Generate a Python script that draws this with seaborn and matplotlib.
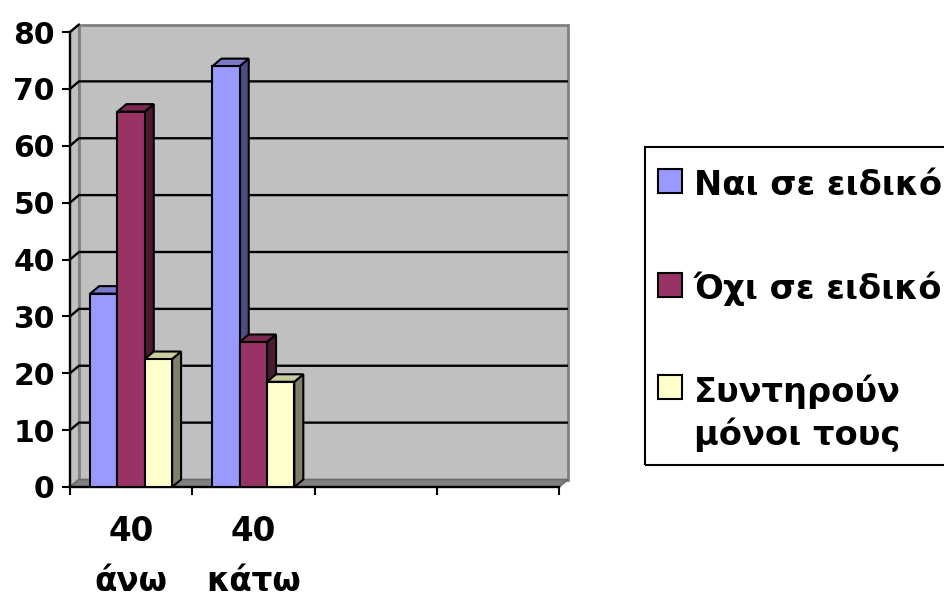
import numpy as np
import pandas as pd
import matplotlib
matplotlib.use("Agg")
import matplotlib.pyplot as plt
from matplotlib.patches import Polygon, Rectangle
import seaborn as sns

# ---------------- data ----------------
categories = ["40\nάνω", "40\nκάτω"]
n_slots = 4
series = ["Ναι σε ειδικό", "Όχι σε ειδικό", "Συντηρούν\nμόνοι τους"]
values_nai = [34, 74]
values_oxi = [66, 25.5]
values_syn = [22.5, 18.5]
y_ticks = [0, 10, 20, 30, 40, 50, 60, 70, 80]

front_colors = ["#9999FF", "#993366", "#FFFFCC"]
side_colors = ["#4D4D80", "#4D1A33", "#80806A"]
top_colors = ["#7A7ACC", "#7A2952", "#CCCCA3"]

df = pd.DataFrame({
    "cat": categories * len(series),
    "series": [s for s in series for _ in categories],
    "value": values_nai + values_oxi + values_syn,
})

sns.set_theme(style="white")
plt.rcParams["font.family"] = ["DejaVu Sans"]
plt.rcParams["font.weight"] = "bold"

W, H = 944, 598
fig = plt.figure(figsize=(W / 100, H / 100), dpi=100)
fig.patch.set_facecolor("white")
ax_l, ax_b, ax_w, ax_h = 70, 487, 489, 455
ax = fig.add_axes([ax_l / W, (H - ax_b) / H, ax_w / W, ax_h / H])
ax.set_facecolor("none")

sns.barplot(data=df, x="cat", y="value", hue="series", order=categories,
            hue_order=series, palette=front_colors, saturation=1,
            errorbar=None, width=0.67, edgecolor="black", linewidth=1.5,
            legend=False, ax=ax)

ymax = 80
ax.set_xlim(-0.5, n_slots - 0.5)
ax.set_ylim(0, ymax)
ax.set_xlabel("")
ax.set_ylabel("")

ppx = ax_w / n_slots
ppy = ax_h / ymax
DX = 9 / ppx
DY = 7.5 / ppy
x0a, x1a = -0.5, n_slots - 0.5

# back wall
ax.add_patch(Polygon([(x0a + DX, DY), (x1a + DX, DY), (x1a + DX, ymax + DY), (x0a + DX, ymax + DY)],
                     closed=True, fc="#C0C0C0", ec="#808080", lw=2, clip_on=False, zorder=0.5))
# left side wall
ax.add_patch(Polygon([(x0a, 0), (x0a + DX, DY), (x0a + DX, ymax + DY), (x0a, ymax)],
                     closed=True, fc="#C0C0C0", ec="#808080", lw=1.5, clip_on=False, zorder=0.55))
# floor
ax.add_patch(Polygon([(x0a, 0), (x1a, 0), (x1a + DX, DY), (x0a + DX, DY)],
                     closed=True, fc="#808080", ec="#6A6A6A", lw=1.2, clip_on=False, zorder=0.7))

# gridlines (side diagonal + back wall)
for v in y_ticks[1:]:
    if v < ymax:
        ax.plot([x0a, x0a + DX, x1a + DX], [v, v + DY, v + DY], color="black",
                lw=1.7, clip_on=False, zorder=0.8, solid_capstyle="butt")
    else:
        ax.plot([x0a, x0a + DX], [v, v + DY], color="black", lw=1.7,
                clip_on=False, zorder=0.8)

# 3D sides and tops of bars
for i, cont in enumerate(ax.containers):
    for bar in cont:
        bx = bar.get_x()
        bw = bar.get_width()
        bh = bar.get_height()
        if not np.isfinite(bh):
            continue
        bar.set_zorder(3 + i)
        ax.add_patch(Polygon([(bx + bw, 0), (bx + bw + DX, DY), (bx + bw + DX, bh + DY), (bx + bw, bh)],
                             closed=True, fc=side_colors[i], ec="black", lw=1.5,
                             zorder=2.9 + i, clip_on=False))
        ax.add_patch(Polygon([(bx, bh), (bx + DX, bh + DY), (bx + bw + DX, bh + DY), (bx + bw, bh)],
                             closed=True, fc=top_colors[i], ec="black", lw=1.5,
                             zorder=2.9 + i, clip_on=False))

# spines
for s in ["top", "right"]:
    ax.spines[s].set_visible(False)
for s in ["left", "bottom"]:
    ax.spines[s].set_color("black")
    ax.spines[s].set_linewidth(1.7)

# ticks
ax.set_yticks(y_ticks)
ax.set_yticklabels([str(t) for t in y_ticks], fontsize=21.5, fontweight="bold", color="black")
ax.tick_params(axis="y", left=True, direction="out", length=6, width=1.5,
               color="black", pad=5)

ax.set_xticks(range(len(categories)))
ax.set_xticklabels(categories, fontsize=23.5, fontweight="bold", color="black", linespacing=1.66)
ax.set_xticks(np.arange(-0.5, n_slots, 1.0), minor=True)
ax.tick_params(axis="x", which="major", bottom=True, length=0, pad=20)
ax.tick_params(axis="x", which="minor", bottom=True, direction="out", length=6,
               width=1.5, color="black")

# legend (drawn manually, Excel style)
def fx(x):
    return x / W

def fy(y):
    return 1 - y / H

fig.add_artist(Rectangle((fx(645), fy(465)), (960 - 645) / W, (465 - 147) / H,
                         transform=fig.transFigure, fill=False, ec="black", lw=1.5))
marker_tops = [169, 273, 375]
baselines = [[195], [299], [402, 445]]
for i, lab in enumerate(series):
    fig.add_artist(Rectangle((fx(658), fy(marker_tops[i] + 24)), 24 / W, 24 / H,
                             transform=fig.transFigure, fc=front_colors[i], ec="black", lw=1.5))
    for line, bl in zip(lab.split("\n"), baselines[i]):
        fig.text(fx(694), fy(bl), line, fontsize=24.2, fontweight="bold",
                 color="black", ha="left", va="baseline")

fig.savefig("out.png", dpi=100, facecolor="white")
